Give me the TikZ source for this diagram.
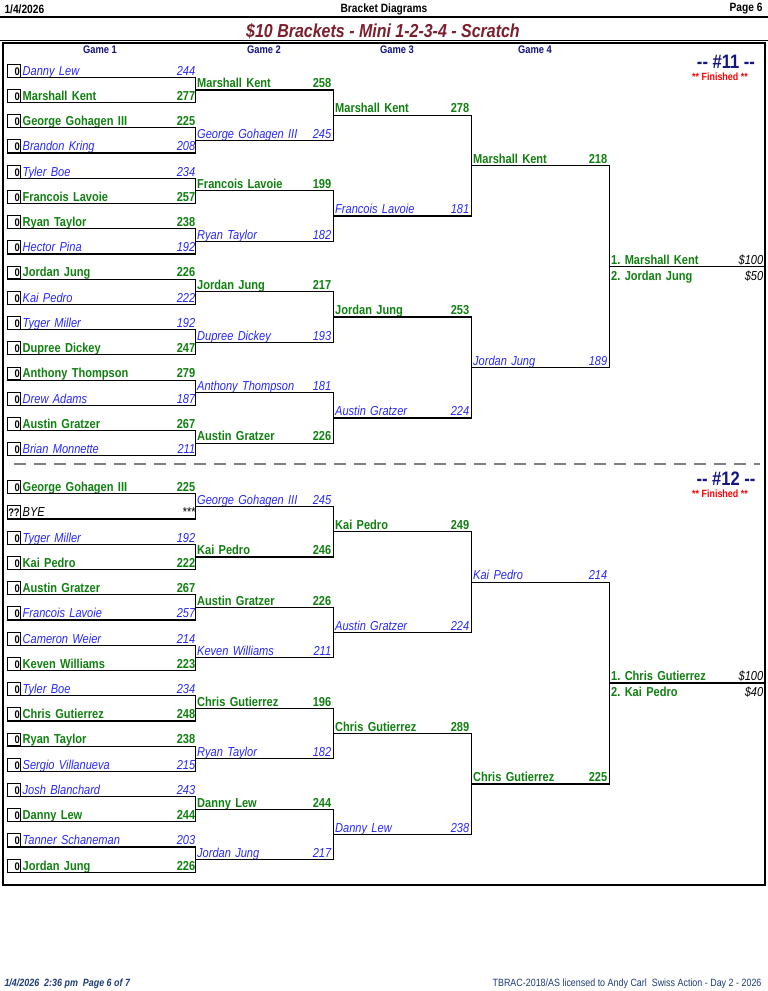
\documentclass[tikz,border=0pt]{standalone}
\usepackage{fontspec}
\setmainfont{Liberation Sans}[FakeStretch=0.85]
\usepackage{tikz}
\usetikzlibrary{positioning}
\definecolor{wingreen}{RGB}{16,128,16}
\definecolor{losblue}{RGB}{40,40,250}
\definecolor{headnavy}{RGB}{20,20,130}
\definecolor{titlered}{RGB}{125,30,45}
\definecolor{footblue}{RGB}{30,60,120}
\newcommand{\seed}[1]{{\color{black}\upshape\bfseries\fontsize{11}{11}\selectfont
  \setlength{\fboxsep}{0pt}\setlength{\fboxrule}{0.9pt}%
  \framebox[14pt][r]{\rule[-1.5pt]{0pt}{12pt}#1\hspace{1.5pt}}}\hspace{1.5pt}}
\newcommand{\prize}[1]{{\color{black}\mdseries\itshape #1}}
\newcommand{\pairup}[2]{\draw[bracketline] (#1.south west) -- (#1.south east)
  -- (#2.south east) -- (#2.south west);}
\frenchspacing

\begin{document}
\begin{tikzpicture}[
  x=1pt,y=-1pt,
  %% one slot of the bracket: text sits on the line below it
  slot/.style={anchor=south west,inner ysep=0pt,text height=10pt,text depth=2pt,align=left},
  first/.style={slot,inner xsep=0pt,text width=188pt},
  later/.style={slot,inner xsep=2pt,text width=134pt},
  final/.style={slot,inner xsep=2pt,text width=152pt},
  %% winners green bold, losers blue italic
  winner/.style={text=wingreen,font=\fontsize{13}{13}\selectfont\bfseries},
  loser/.style={text=losblue,font=\fontsize{13}{13}\selectfont\itshape},
  byeslot/.style={text=black,font=\fontsize{13}{13}\selectfont\itshape},
  gamehead/.style={text=headnavy,font=\fontsize{11}{11}\selectfont\bfseries},
  bracketno/.style={text=headnavy,font=\fontsize{19.5}{19.5}\selectfont\bfseries},
  finished/.style={text=red,font=\fontsize{10.5}{10.5}\selectfont\bfseries},
  bracketline/.style={line width=1.2pt}
]
\useasboundingbox (0,0) rectangle (768,991);

%% ---- PAGE HEADER ----
\node[anchor=west,font=\fontsize{12}{12}\selectfont\bfseries] (hdate) at (1,9) {1/4/2026};
\node[font=\fontsize{12}{12}\selectfont\bfseries] (hname) at (384,9) {Bracket Diagrams};
\node[anchor=east,font=\fontsize{12}{12}\selectfont\bfseries] (hpage) at (766,9) {Page 6};
\draw[line width=2pt] (0,16.5) -- (768,16.5);
\node[text=titlered,font=\fontsize{18.8}{18.8}\selectfont\bfseries\itshape] (title) at (383,31)
  {\$10 Brackets - Mini 1-2-3-4 - Scratch};
\draw[line width=1.2pt] (0,40.5) -- (768,40.5);
\draw[line width=1.2pt] (3,43) rectangle (765,885);

\node[gamehead] (game1) at (100,50) {Game 1};
\node[gamehead] (game2) at (264,50) {Game 2};
\node[gamehead] (game3) at (397,50) {Game 3};
\node[gamehead] (game4) at (535,50) {Game 4};

%% ---- BRACKET #11 ----
\node[bracketno] (no11) at (726,62) {-{}- \#11 -{}-};
\node[finished] (fin11) at (720,77) {** Finished **};

\node[first,loser]  (a1)  at (7,77.3)  {\seed{0}Danny Lew\hfill 244};
\node[first,winner] (a2)  at (7,102.5) {\seed{0}Marshall Kent\hfill 277};
\node[first,winner] (a3)  at (7,127.8) {\seed{0}George Gohagen III\hfill 225};
\node[first,loser]  (a4)  at (7,153.0) {\seed{0}Brandon Kring\hfill 208};
\node[first,loser]  (a5)  at (7,178.2) {\seed{0}Tyler Boe\hfill 234};
\node[first,winner] (a6)  at (7,203.5) {\seed{0}Francois Lavoie\hfill 257};
\node[first,winner] (a7)  at (7,228.7) {\seed{0}Ryan Taylor\hfill 238};
\node[first,loser]  (a8)  at (7,253.9) {\seed{0}Hector Pina\hfill 192};
\node[first,winner] (a9)  at (7,279.1) {\seed{0}Jordan Jung\hfill 226};
\node[first,loser]  (a10) at (7,304.4) {\seed{0}Kai Pedro\hfill 222};
\node[first,loser]  (a11) at (7,329.6) {\seed{0}Tyger Miller\hfill 192};
\node[first,winner] (a12) at (7,354.8) {\seed{0}Dupree Dickey\hfill 247};
\node[first,winner] (a13) at (7,380.1) {\seed{0}Anthony Thompson\hfill 279};
\node[first,loser]  (a14) at (7,405.3) {\seed{0}Drew Adams\hfill 187};
\node[first,winner] (a15) at (7,430.5) {\seed{0}Austin Gratzer\hfill 267};
\node[first,loser]  (a16) at (7,455.8) {\seed{0}Brian Monnette\hfill 211};

\node[later,winner] (b1) at (195,89.9)  {Marshall Kent\hfill 258};
\node[later,loser]  (b2) at (195,140.4) {George Gohagen III\hfill 245};
\node[later,winner] (b3) at (195,190.8) {Francois Lavoie\hfill 199};
\node[later,loser]  (b4) at (195,241.3) {Ryan Taylor\hfill 182};
\node[later,winner] (b5) at (195,291.7) {Jordan Jung\hfill 217};
\node[later,loser]  (b6) at (195,342.2) {Dupree Dickey\hfill 193};
\node[later,loser]  (b7) at (195,392.7) {Anthony Thompson\hfill 181};
\node[later,winner] (b8) at (195,443.1) {Austin Gratzer\hfill 226};

\node[later,winner] (c1) at (333,115.1) {Marshall Kent\hfill 278};
\node[later,loser]  (c2) at (333,216.0) {Francois Lavoie\hfill 181};
\node[later,winner] (c3) at (333,317.0) {Jordan Jung\hfill 253};
\node[later,loser]  (c4) at (333,417.9) {Austin Gratzer\hfill 224};

\node[later,winner] (d1) at (471,165.6) {Marshall Kent\hfill 218};
\node[later,loser]  (d2) at (471,367.4) {Jordan Jung\hfill 189};

\node[final,winner] (top11) at (609,266.5) {1. Marshall Kent\hfill\prize{\$100}};
\node[final,winner,anchor=north west] (sec11) at (609,270) {2. Jordan Jung\hfill\prize{\$50}};

\pairup{a1}{a2}   \pairup{a3}{a4}   \pairup{a5}{a6}   \pairup{a7}{a8}
\pairup{a9}{a10}  \pairup{a11}{a12} \pairup{a13}{a14} \pairup{a15}{a16}
\pairup{b1}{b2}   \pairup{b3}{b4}   \pairup{b5}{b6}   \pairup{b7}{b8}
\pairup{c1}{c2}   \pairup{c3}{c4}
\pairup{d1}{d2}
\draw[bracketline] (top11.south west) -- (top11.south east);

%% separator between the two brackets
\draw[gray,line width=1.5pt,dash pattern=on 12pt off 8pt] (14,464) -- (760,464);

%% ---- BRACKET #12 (same layout, shifted down) ----
\begin{scope}[yshift=-416.5pt]
\node[bracketno] (no12) at (726,62) {-{}- \#12 -{}-};
\node[finished] (fin12) at (720,77) {** Finished **};

\node[first,winner]  (za1)  at (7,77.3)  {\seed{0}George Gohagen III\hfill 225};
\node[first,byeslot] (za2)  at (7,102.5) {\seed{??}BYE\hfill ***};
\node[first,loser]   (za3)  at (7,127.8) {\seed{0}Tyger Miller\hfill 192};
\node[first,winner]  (za4)  at (7,153.0) {\seed{0}Kai Pedro\hfill 222};
\node[first,winner]  (za5)  at (7,178.2) {\seed{0}Austin Gratzer\hfill 267};
\node[first,loser]   (za6)  at (7,203.5) {\seed{0}Francois Lavoie\hfill 257};
\node[first,loser]   (za7)  at (7,228.7) {\seed{0}Cameron Weier\hfill 214};
\node[first,winner]  (za8)  at (7,253.9) {\seed{0}Keven Williams\hfill 223};
\node[first,loser]   (za9)  at (7,279.1) {\seed{0}Tyler Boe\hfill 234};
\node[first,winner]  (za10) at (7,304.4) {\seed{0}Chris Gutierrez\hfill 248};
\node[first,winner]  (za11) at (7,329.6) {\seed{0}Ryan Taylor\hfill 238};
\node[first,loser]   (za12) at (7,354.8) {\seed{0}Sergio Villanueva\hfill 215};
\node[first,loser]   (za13) at (7,380.1) {\seed{0}Josh Blanchard\hfill 243};
\node[first,winner]  (za14) at (7,405.3) {\seed{0}Danny Lew\hfill 244};
\node[first,loser]   (za15) at (7,430.5) {\seed{0}Tanner Schaneman\hfill 203};
\node[first,winner]  (za16) at (7,455.8) {\seed{0}Jordan Jung\hfill 226};

\node[later,loser]  (zb1) at (195,89.9)  {George Gohagen III\hfill 245};
\node[later,winner] (zb2) at (195,140.4) {Kai Pedro\hfill 246};
\node[later,winner] (zb3) at (195,190.8) {Austin Gratzer\hfill 226};
\node[later,loser]  (zb4) at (195,241.3) {Keven Williams\hfill 211};
\node[later,winner] (zb5) at (195,291.7) {Chris Gutierrez\hfill 196};
\node[later,loser]  (zb6) at (195,342.2) {Ryan Taylor\hfill 182};
\node[later,winner] (zb7) at (195,392.7) {Danny Lew\hfill 244};
\node[later,loser]  (zb8) at (195,443.1) {Jordan Jung\hfill 217};

\node[later,winner] (zc1) at (333,115.1) {Kai Pedro\hfill 249};
\node[later,loser]  (zc2) at (333,216.0) {Austin Gratzer\hfill 224};
\node[later,winner] (zc3) at (333,317.0) {Chris Gutierrez\hfill 289};
\node[later,loser]  (zc4) at (333,417.9) {Danny Lew\hfill 238};

\node[later,loser]  (zd1) at (471,165.6) {Kai Pedro\hfill 214};
\node[later,winner] (zd2) at (471,367.4) {Chris Gutierrez\hfill 225};

\node[final,winner] (top12) at (609,266.5) {1. Chris Gutierrez\hfill\prize{\$100}};
\node[final,winner,anchor=north west] (sec12) at (609,270) {2. Kai Pedro\hfill\prize{\$40}};

\pairup{za1}{za2}   \pairup{za3}{za4}   \pairup{za5}{za6}   \pairup{za7}{za8}
\pairup{za9}{za10}  \pairup{za11}{za12} \pairup{za13}{za14} \pairup{za15}{za16}
\pairup{zb1}{zb2}   \pairup{zb3}{zb4}   \pairup{zb5}{zb6}   \pairup{zb7}{zb8}
\pairup{zc1}{zc2}   \pairup{zc3}{zc4}
\pairup{zd1}{zd2}
\draw[bracketline] (top12.south west) -- (top12.south east);
\end{scope}

%% ---- FOOTER ----
\node[anchor=west,text=footblue,font=\fontsize{10.5}{10.5}\selectfont\bfseries\itshape] (fleft) at (1,984)
  {1/4/2026\ \ 2:36 pm\ \ Page 6 of 7};
\node[anchor=east,text=footblue,font=\fontsize{10.5}{10.5}\selectfont] (fright) at (765,984)
  {TBRAC-2018/AS licensed to Andy Carl\ \ Swiss Action - Day 2 - 2026};

\end{tikzpicture}
\end{document}
